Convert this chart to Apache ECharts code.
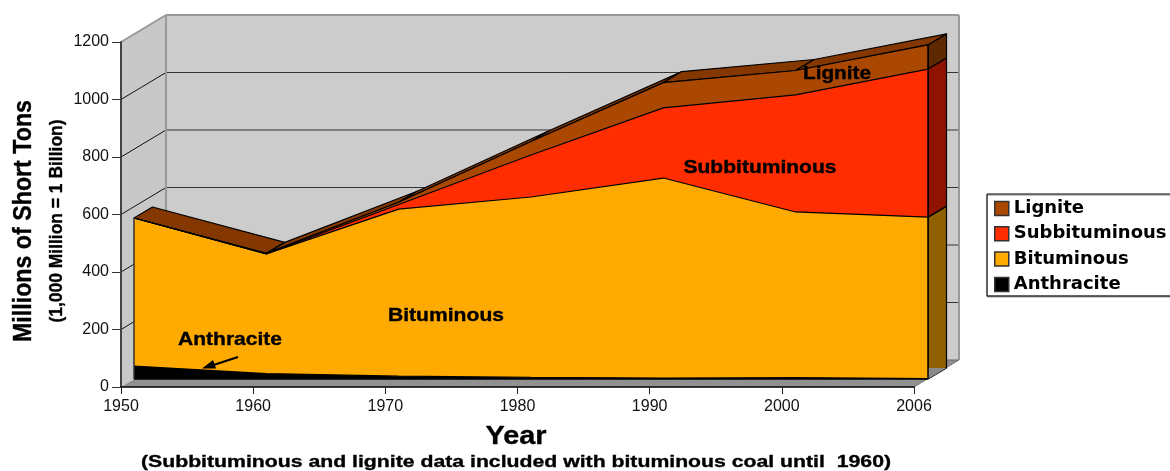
<!DOCTYPE html>
<html>
<head>
<meta charset="utf-8">
<style>html,body{margin:0;padding:0;background:#fff}#c{width:1170px;height:471px}</style>
<script src="https://cdn.jsdelivr.net/npm/echarts@6/dist/echarts.min.js"></script>
</head>
<body>
<div id="c"></div>
<script>
const years = ['1950','1960','1970','1980','1990','2000','2006'];
const yTicks = [0,200,400,600,800,1000,1200];
const anthracite = [45,19,10,6,3.5,4.5,1.5];
const bituminous = [515,416,581,627,695.5,576.5,561.5];
const subbituminous = [0,0,16,146,244,407,515];
const lignite = [0,2,8,47,88,85,84];
const legendNames = ['Lignite','Subbituminous','Bituminous','Anthracite'];

const layers = [
  {name:'Anthracite',values:anthracite,color:'#000000',side:'#000000'},
  {name:'Bituminous',values:bituminous,color:'#FFAA00',side:'#8F6000'},
  {name:'Subbituminous',values:subbituminous,color:'#FF2D00',side:'#8F1300'},
  {name:'Lignite',values:lignite,color:'#AA4700',side:'#5E2800'}
];
const topFace = '#843800';
const cum = [];
layers.forEach((l,k)=>{cum[k]=l.values.map((v,i)=>v+(k?cum[k-1][i]:0));});
const total = cum[cum.length-1];

const wallD = [45,-27];
const seriesD = [18.5,-11];
const poly = (pts,fill,stroke,lw,z2)=>({type:'polygon',shape:{points:pts},style:{fill:fill,stroke:stroke||null,lineWidth:lw||0,lineJoin:'round'},z2:z2||0,silent:true});
const seg = (a,b,stroke,lw)=>({type:'line',shape:{x1:a[0],y1:a[1],x2:b[0],y2:b[1]},style:{stroke:stroke,lineWidth:lw},silent:true});
const shift = (p,d)=>[p[0]+d[0],p[1]+d[1]];

function renderWalls(params,api){
  const last = years.length-1, top = yTicks[yTicks.length-1];
  const a0=api.coord([0,0]), a1=api.coord([last,0]), t0=api.coord([0,top]), t1=api.coord([last,top]);
  const ch=[
    poly([a0,t0,shift(t0,wallD),shift(a0,wallD)],'#C8C8C8'),
    poly([shift(a0,wallD),shift(t0,wallD),shift(t1,wallD),shift(a1,wallD)],'#CCCCCC'),
    poly([a0,a1,shift(a1,wallD),shift(a0,wallD)],'#909090')
  ];
  yTicks.slice(1,-1).forEach(v=>{
    const p=api.coord([0,v]), q=api.coord([last,v]);
    ch.push(seg(p,shift(p,wallD),'#111',1));
    ch.push(seg(shift(p,wallD),shift(q,wallD),'#333',1));
  });
  ch.push(seg(t0,shift(t0,wallD),'#999',2));
  ch.push(seg(shift(t0,wallD),shift(t1,wallD),'#999',2));
  ch.push(seg(shift(t1,wallD),shift(a1,wallD),'#999',2));
  ch.push(seg(shift(a0,wallD),shift(t0,wallD),'#999',2));
  ch.push(seg(shift(a0,wallD),shift(a1,wallD),'#666',1));
  ch.push(seg(a1,shift(a1,wallD),'#777',1));
  return {type:'group',children:ch};
}
function renderDepth(params,api){
  const ch=[], last=years.length-1;
  for(let i=0;i<last;i++){
    const p=api.coord([i,total[i]]), q=api.coord([i+1,total[i+1]]);
    ch.push(poly([p,q,shift(q,seriesD),shift(p,seriesD)],topFace,'#000',1.2));
  }
  layers.forEach((l,k)=>{
    const lo=api.coord([last,k?cum[k-1][last]:0]), hi=api.coord([last,cum[k][last]]);
    ch.push(poly([lo,hi,shift(hi,seriesD),shift(lo,seriesD)],l.side,'#000',1.2));
  });
  const b0=api.coord([last,0]);
  ch.push(poly([api.coord([0,0]),b0,shift(b0,seriesD),shift(api.coord([0,0]),seriesD)],'#8A8A8A'));
  return {type:'group',children:ch};
}
function renderEdges(params,api){
  const last=years.length-1;
  return {type:'group',children:[
    seg(api.coord([0,0]),api.coord([0,total[0]]),'#333',1.5),
    seg(api.coord([last,0]),api.coord([last,total[last]]),'#000',1.5),
    seg(api.coord([0,0]),api.coord([last,0]),'#000',1.5)
  ]};
}

const mctx=document.createElement('canvas').getContext('2d');
function T(text,cx,cy,w,px,rot){
  const font='bold '+px+'px "Liberation Sans"';
  mctx.font=font;
  const s=w/mctx.measureText(text).width;
  return {type:'text',x:cx,y:cy,rotation:rot||0,scaleX:s,z:50,silent:true,
    style:{text:text,x:0,y:0,font:font,fill:'#000',stroke:'#000',lineWidth:0.35,textAlign:'center',textVerticalAlign:'middle'}};
}

const axisFont={fontFamily:'Liberation Sans',fontSize:16,color:'#111'};
const option={
  animation:false,
  tooltip:{show:false},
  grid:[
    {left:121,top:42,width:793,height:345},
    {left:134,top:34,width:794,height:345}
  ],
  xAxis:[
    {type:'category',gridIndex:0,data:years,boundaryGap:false,
     axisLine:{onZero:false,lineStyle:{color:'#000',width:1.5}},
     axisTick:{alignWithLabel:true,length:7,lineStyle:{color:'#222',width:1}},
     axisLabel:Object.assign({interval:0,margin:12,hideOverlap:false},axisFont),splitLine:{show:false},z:20},
    {type:'category',gridIndex:1,data:years,boundaryGap:false,show:false}
  ],
  yAxis:[
    {type:'value',gridIndex:0,min:0,max:1200,interval:200,
     axisLine:{show:true,lineStyle:{color:'#444',width:2}},
     axisTick:{show:true,length:9,lineStyle:{color:'#333',width:1}},
     axisLabel:Object.assign({margin:12,padding:[2,0,0,0],formatter:v=>String(v)},axisFont),splitLine:{show:false},z:20},
    {type:'value',gridIndex:1,min:0,max:1200,interval:200,show:false,splitLine:{show:false}}
  ],
  legend:{
    data:legendNames,left:987,top:194,orient:'vertical',
    padding:[4,8,1,7],itemWidth:14,itemHeight:14,itemGap:4.3,
    icon:'rect',borderColor:'#000',borderWidth:1,backgroundColor:'#fff',
    shadowColor:'#888',shadowOffsetY:1,shadowBlur:0,
    selectedMode:false,
    itemStyle:{borderColor:'#333',borderWidth:1.5},
    textStyle:{fontFamily:'DejaVu Sans',fontWeight:'bold',fontSize:18,color:'#000',lineHeight:21}
  },
  series:[
    {type:'custom',xAxisIndex:0,yAxisIndex:0,data:[[0,0]],renderItem:renderWalls,z:0,silent:true,clip:false},
    {type:'custom',xAxisIndex:1,yAxisIndex:1,data:[[0,0]],renderItem:renderDepth,z:1,silent:true,clip:false}
  ].concat(layers.map(l=>({
    type:'line',name:l.name,xAxisIndex:1,yAxisIndex:1,stack:'coal',data:l.values,
    showSymbol:false,symbol:'none',z:2,silent:true,
    lineStyle:{color:'#000',width:1.2},
    itemStyle:{color:l.color},
    areaStyle:{color:l.color,opacity:1}
  }))).concat([
    {type:'custom',xAxisIndex:1,yAxisIndex:1,data:[[0,0]],renderItem:renderEdges,z:3,silent:true,clip:false}
  ]),
  graphic:{elements:[
    T('Millions of Short Tons',24,221,242,26,Math.PI/2),
    T('(1,000 Million = 1 Billion)',57,221,203,19,Math.PI/2),
    T('Year',516,437,61,25),
    T('(Subbituminous and lignite data included with bituminous coal until  1960)',516,462,750,17),
    T('Anthracite',230,340,104,18),
    T('Bituminous',446,316,116,18),
    T('Subbituminous',760,168,153,18),
    T('Lignite',837,74,68,18),
    {type:'line',z:50,silent:true,shape:{x1:238,y1:357,x2:212,y2:365.5},style:{stroke:'#000',lineWidth:2.2}},
    {type:'polygon',z:50,silent:true,shape:{points:[[202,368.5],[213,360],[216,368.5]]},style:{fill:'#000'}}
  ]}
};
const chart=echarts.init(document.getElementById('c'),null,{renderer:'canvas'});
chart.setOption(option);
</script>
</body>
</html>
